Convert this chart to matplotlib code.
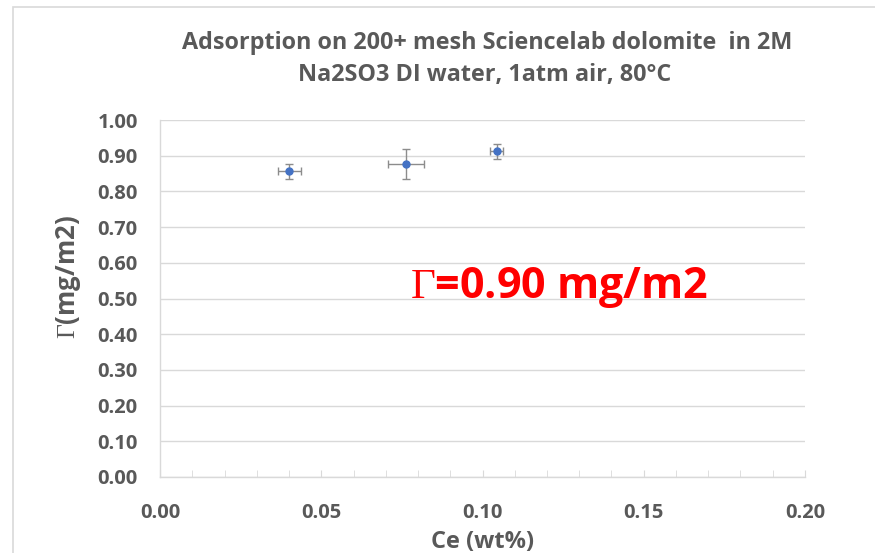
import matplotlib.pyplot as plt
from matplotlib.patches import Rectangle
from matplotlib.ticker import MultipleLocator

plt.rcParams['font.family'] = ['Open Sans', 'DejaVu Sans']
plt.rcParams['mathtext.fontset'] = 'custom'
plt.rcParams['mathtext.rm'] = 'Liberation Serif'

# adsorption measurements: equilibrium concentration vs. adsorbed amount
ce = [0.0401, 0.0764, 0.1044]
ce_err = [0.0035, 0.0056, 0.0020]
gamma = [0.856, 0.876, 0.912]
gamma_err = [0.020, 0.042, 0.021]

title_lines = ["Adsorption on 200+ mesh Sciencelab dolomite  in 2M",
               "Na2SO3 DI water, 1atm air, 80\u00b0C"]
gamma_avg = "0.90"

grey_txt = "#595959"
grid_c = "#d9d9d9"

fig = plt.figure(figsize=(8.75, 5.53), dpi=100)
# chart frame (only top and left edges fall inside the image)
fig.patches.append(Rectangle((13 / 875, -0.1), 1.2, 1 - 7 / 553 + 0.1,
                             transform=fig.transFigure, fill=False,
                             edgecolor=grid_c, lw=1.2))

ax = fig.add_axes([160 / 875, 1 - 477 / 553, 645 / 875, 357 / 553])
ax.errorbar(ce, gamma, xerr=ce_err, yerr=gamma_err, fmt='o', color='#4472C4',
            markersize=5, ecolor='#8c8c8c', elinewidth=1, capsize=3,
            capthick=1, zorder=3)

ax.set_xlim(0, 0.20)
ax.set_ylim(0, 1.0)
ax.xaxis.set_major_locator(MultipleLocator(0.05))
ax.xaxis.set_minor_locator(MultipleLocator(0.01))
ax.yaxis.set_major_locator(MultipleLocator(0.10))
ax.xaxis.set_major_formatter(plt.FormatStrFormatter('%.2f'))
ax.yaxis.set_major_formatter(plt.FormatStrFormatter('%.2f'))

ax.grid(axis='y', color=grid_c, lw=1)
ax.set_axisbelow(True)
for s in ['top', 'right']:
    ax.spines[s].set_visible(False)
for s in ['left', 'bottom']:
    ax.spines[s].set_color(grid_c)
    ax.spines[s].set_linewidth(1)

ax.tick_params(axis='x', which='both', direction='in', length=5, color=grid_c,
               pad=19, labelsize=14.5, labelcolor=grey_txt)
ax.tick_params(axis='y', length=0, pad=16, labelsize=14.5, labelcolor=grey_txt)
for lbl in ax.get_xticklabels() + ax.get_yticklabels():
    lbl.set_fontweight('bold')

ax.set_xlabel("Ce (wt%)", fontsize=17, fontweight='bold', color=grey_txt, labelpad=5)
ax.set_ylabel(r"$\mathrm{\Gamma}$(mg/m2)", fontsize=18.5, fontweight='bold',
              color=grey_txt)
ax.yaxis.set_label_coords(-0.119, 0.559)

fig.text(487 / 875, 1 - 43 / 553, title_lines[0], ha='center', va='center',
         fontsize=16.8, fontweight='bold', color=grey_txt)
fig.text(485 / 875, 1 - 75 / 553, title_lines[1], ha='center', va='center',
         fontsize=16.8, fontweight='bold', color=grey_txt)

ax.text(0.0775, 0.53, r"$\mathrm{\Gamma}$=" + gamma_avg + " mg/m2", ha='left',
        va='center', fontsize=31, fontweight='bold', color='#ff0000')

fig.savefig("out.png", dpi=100)
